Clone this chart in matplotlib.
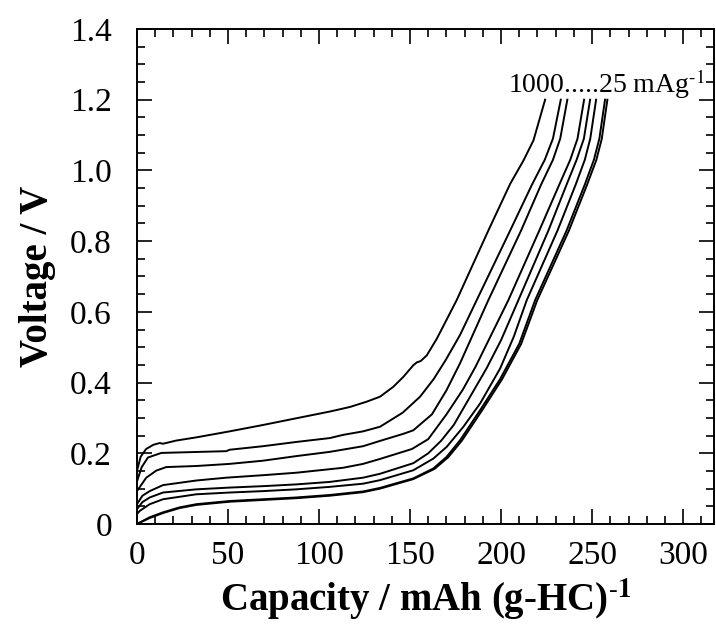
import matplotlib
matplotlib.use("Agg")
import matplotlib.pyplot as plt
from matplotlib.ticker import MultipleLocator, FuncFormatter

plt.rcParams['font.family'] = ['Liberation Serif', 'DejaVu Serif']
plt.rcParams['mathtext.fontset'] = 'stix'

# capacity (mAh/g) and voltage (V), 1000 ... 25 mA/g
cap_1000 = [0, 2, 5, 9, 12.5, 14.3, 21.6, 32.6, 50.9, 69.2, 87.5, 105.9, 117, 126.2, 133.5,
            140.8, 146.3, 151.8, 153.7, 155.9, 159.2, 164.7, 175.6, 193.1, 205, 212.3, 217.8, 224.2]
v_1000 = [0.15, 0.19, 0.212, 0.224, 0.229, 0.227, 0.236, 0.245, 0.262, 0.280, 0.299, 0.318, 0.331, 0.346, 0.360,
          0.388, 0.416, 0.449, 0.457, 0.461, 0.477, 0.524, 0.633, 0.831, 0.962, 1.028, 1.085, 1.2]

cap_800 = [0, 2.5, 6, 13.4, 49.1, 50.9, 69.2, 87.5, 105.9, 113.2, 124.2, 133.5, 146, 155.5, 163,
           169.5, 177.5, 186.6, 205, 217, 224, 228.5, 232.8]
v_800 = [0.12, 0.16, 0.188, 0.201, 0.206, 0.210, 0.220, 0.232, 0.243, 0.252, 0.262, 0.275, 0.315, 0.36, 0.41,
         0.463, 0.535, 0.633, 0.83, 0.96, 1.03, 1.09, 1.2]

cap_600 = [0, 5.1, 10.6, 16.1, 32.6, 50.9, 69.2, 87.5, 105.9, 124.2, 133.5, 146.3, 151.8, 162,
           170, 177.5, 193, 211, 222, 228.5, 232.5, 236.4]
v_600 = [0.093, 0.131, 0.151, 0.161, 0.164, 0.170, 0.179, 0.192, 0.204, 0.220, 0.235, 0.255, 0.265, 0.31,
         0.378, 0.455, 0.633, 0.83, 0.96, 1.03, 1.09, 1.2]

cap_400 = [0, 3, 7, 14.3, 32.6, 49.1, 69.2, 87.5, 113.2, 124.2, 133.5, 151, 160, 170, 179, 186,
           204, 221, 232, 238, 242, 245.6]
v_400 = [0.056, 0.08, 0.093, 0.110, 0.123, 0.131, 0.138, 0.145, 0.159, 0.170, 0.184, 0.212, 0.24, 0.31, 0.38, 0.445,
         0.633, 0.83, 0.96, 1.03, 1.09, 1.2]

cap_200 = [0, 3, 7, 14.3, 32.6, 50.9, 69.2, 87.5, 105.9, 124.2, 133.5, 151.8, 160, 167, 174, 183, 192,
           200, 209.5, 226, 236, 241.5, 245.5, 248.9]
v_200 = [0.042, 0.062, 0.075, 0.089, 0.098, 0.103, 0.107, 0.112, 0.119, 0.131, 0.142, 0.172, 0.2, 0.235, 0.28, 0.36, 0.44,
         0.52, 0.633, 0.83, 0.96, 1.03, 1.09, 1.2]

cap_100 = [0, 1.5, 7, 14.3, 32.6, 50.9, 69.2, 87.5, 105.9, 124.2, 133.5, 151.8, 162.8, 170.1, 179.3,
           188.5, 199.5, 207, 214.1, 231, 241, 246, 249, 252.2]
v_100 = [0.028, 0.037, 0.056, 0.070, 0.084, 0.089, 0.093, 0.098, 0.105, 0.114, 0.124, 0.152, 0.185, 0.218, 0.275,
         0.341, 0.44, 0.53, 0.633, 0.83, 0.96, 1.03, 1.09, 1.2]

cap_50 = [0, 7, 14.3, 23.4, 32.6, 50.9, 69.2, 87.5, 105.9, 124.2, 133.5, 151.8, 162.8, 170.1, 177.5,
          188.5, 199.5, 210, 218.7, 236, 246, 251, 254, 257.1]
v_50 = [0.0, 0.019, 0.033, 0.047, 0.056, 0.065, 0.070, 0.075, 0.082, 0.092, 0.102, 0.129, 0.157, 0.19, 0.237,
        0.322, 0.41, 0.51, 0.633, 0.83, 0.96, 1.03, 1.09, 1.2]

cap_25 = [0, 7, 14.3, 23.4, 32.6, 50.9, 69.2, 87.5, 105.9, 124.2, 133.5, 151.8, 163.5, 171, 178.5,
          189.5, 200.5, 211, 219.8, 237.2, 247.2, 252.3, 255.3, 258.4]
v_25 = [0.0, 0.017, 0.031, 0.045, 0.054, 0.063, 0.068, 0.073, 0.080, 0.090, 0.100, 0.127, 0.156, 0.189, 0.236,
        0.321, 0.409, 0.509, 0.632, 0.829, 0.959, 1.029, 1.089, 1.2]

curves = [(cap_1000, v_1000), (cap_800, v_800), (cap_600, v_600), (cap_400, v_400),
          (cap_200, v_200), (cap_100, v_100), (cap_50, v_50), (cap_25, v_25)]

fig = plt.figure(figsize=(7.16, 6.37), dpi=100)
ax = fig.add_axes([0.1913, 0.1774, 0.806, 0.7771])

for c, v in curves:
    ax.plot(c, v, color='black', lw=1.4)

ax.set_xlim(0, 317)
ax.set_ylim(0, 1.4)
ax.xaxis.set_major_locator(MultipleLocator(50))
ax.xaxis.set_minor_locator(MultipleLocator(10))
ax.yaxis.set_major_locator(MultipleLocator(0.2))
ax.yaxis.set_minor_locator(MultipleLocator(0.05))
ax.yaxis.set_major_formatter(FuncFormatter(lambda y, p: '0' if abs(y) < 1e-9 else '%.1f' % y))

ax.tick_params(which='both', direction='in', top=True, right=True, labelsize=24, width=1.2)
ax.tick_params(which='major', length=11)
ax.tick_params(axis='y', which='major', pad=18)
ax.tick_params(axis='x', which='major', pad=12)
ax.tick_params(which='minor', length=5.5)
for s in ax.spines.values():
    s.set_linewidth(1.4)

ax.set_xlabel('Capacity / mAh (g-HC)$^{\\text{-}\\mathbf{1}}$', fontsize=28, fontweight='bold', labelpad=4)
ax.set_ylabel('Voltage / V', fontsize=28, fontweight='bold', labelpad=10)

ax.text(204, 1.22, '1000.....25 mAg$^{\\text{-}1}$', fontsize=20, ha='left', va='baseline')

fig.savefig('out.png', dpi=100)
